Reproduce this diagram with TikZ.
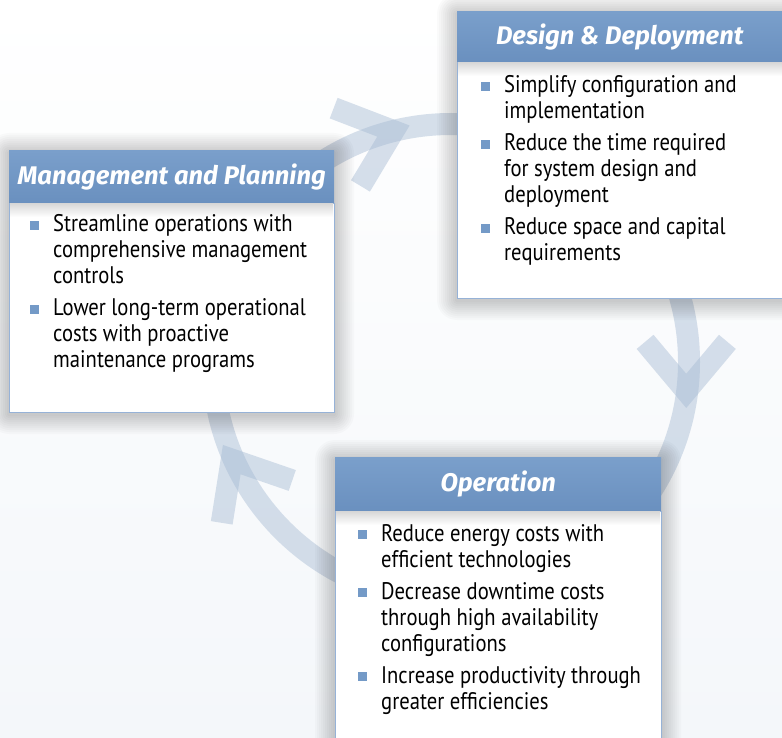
\documentclass[tikz,border=0pt]{standalone}
\usepackage{fontspec}
\setmainfont{PT Sans}[FakeStretch=0.86]
\newfontfamily\headfont{Fira Sans}

\definecolor{headblue}{RGB}{115,153,198}
\definecolor{headtop}{RGB}{122,159,203}
\definecolor{headbot}{RGB}{106,144,191}
\definecolor{edgeblue}{RGB}{150,178,215}
\definecolor{bulletblue}{RGB}{116,154,199}
\definecolor{ringblue}{RGB}{165,186,211}
\definecolor{bgbottom}{RGB}{244,247,250}

% one bullet of a card
\newcommand{\bitem}[1]{\hangindent=23pt\hangafter=1\noindent
  \makebox[23pt][l]{\textcolor{bulletblue}{\rule[2pt]{9pt}{9pt}}}#1\par}

% soft shadow round a card, from its top left to its bottom right corner
\newcommand{\cardshadow}[2]{%
  \foreach \d in {2,4,...,20}
    \fill[black, fill opacity=0.018, rounded corners=\d pt]
      ([shift={(-\d,-\d+2)}]#1) rectangle ([shift={(\d,\d+2)}]#2);}

\tikzset{
  ring/.style={draw=ringblue, draw opacity=0.45, line width=22pt},
  chevron/.style={ring, line join=miter, line cap=butt},
  cardbody/.style={draw=edgeblue, line width=0.8pt, fill=white, anchor=north west,
    inner sep=0pt},
  cardhead/.style={top color=headtop, bottom color=headbot,
    anchor=south west, inner sep=0pt, text=white,
    font=\headfont\bfseries\itshape\fontsize{25.5}{30}\selectfont},
  headshade/.style={top color=black!16, bottom color=white, draw=none},
  bullets/.style={anchor=base west, inner sep=0pt,
    font=\fontsize{24}{26}\selectfont}
}

\begin{document}
\begin{tikzpicture}[x=1pt,y=-1pt]
\useasboundingbox (0,0) rectangle (782,738);
\clip (0,0) rectangle (782,738);

% background
\shade[top color=white, bottom color=bgbottom] (0,0) rectangle (782,738);

% the cycle ring
\coordinate (hub) at (451,362);
\draw[ring] (hub) circle (238);
\path (hub) ++(256:238) coordinate (tipTop);
\path (hub) ++(7:237) coordinate (tipRight);
\path (hub) ++(156:240) coordinate (tipLeft);
\draw[chevron] (tipTop) ++(201:64) -- (tipTop) -- ++(121:64);
\draw[chevron] (tipRight) ++(230:64) -- (tipRight) -- ++(310:64);
\draw[chevron] (tipLeft) ++(19:64) -- (tipLeft) -- ++(99:64);

% card shadows
\coordinate (designNW) at (457,12);
\coordinate (designSE) at (802,298);
\coordinate (mgmtNW) at (9,151);
\coordinate (mgmtSE) at (334,412);
\coordinate (opNW) at (335,458);
\coordinate (opSE) at (661,760);
\cardshadow{designNW}{designSE}
\cardshadow{mgmtNW}{mgmtSE}
\cardshadow{opNW}{opSE}

% Design & Deployment
\node[cardbody, minimum width=345pt, minimum height=236pt] (designBody) at (457,62) {};
\shade[headshade] ([shift={(1,0)}]designBody.north west) rectangle ++(343,14);
\node[cardhead, minimum width=345pt, minimum height=50pt] (designHead)
  at (designBody.north west) {\hspace*{-20pt}Design \& Deployment};
\node[bullets] (designText) at (481,93) {\parbox[t]{300pt}{\setlength{\parskip}{6pt}%
  \bitem{Simplify configuration and\newline implementation}
  \bitem{Reduce the time required\newline for system design and\newline deployment}
  \bitem{Reduce space and capital\newline requirements}}};

% Management and Planning
\node[cardbody, minimum width=325pt, minimum height=209pt] (mgmtBody) at (9,203) {};
\shade[headshade] ([shift={(1,0)}]mgmtBody.north west) rectangle ++(323,14);
\node[cardhead, minimum width=325pt, minimum height=52pt] (mgmtHead)
  at (mgmtBody.north west) {Management and Planning};
\node[bullets] (mgmtText) at (30,232) {\parbox[t]{300pt}{\setlength{\parskip}{6pt}%
  \bitem{Streamline operations with\newline comprehensive management\newline controls}
  \bitem{Lower long-term operational\newline costs with proactive\newline maintenance programs}}};

% Operation
\node[cardbody, minimum width=326pt, minimum height=250pt] (opBody) at (335,511) {};
\shade[headshade] ([shift={(1,0)}]opBody.north west) rectangle ++(324,14);
\node[cardhead, minimum width=326pt, minimum height=53pt] (opHead)
  at (opBody.north west) {Operation};
\node[bullets] (opText) at (358,541) {\parbox[t]{300pt}{\setlength{\parskip}{6pt}%
  \bitem{Reduce energy costs with\newline efficient technologies}
  \bitem{Decrease downtime costs\newline through high availability\newline configurations}
  \bitem{Increase productivity through\newline greater efficiencies}}};

\end{tikzpicture}
\end{document}
